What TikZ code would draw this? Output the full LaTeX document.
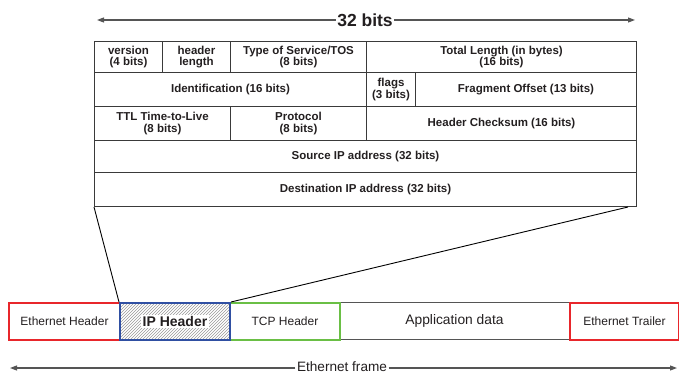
\documentclass[tikz,border=0pt]{standalone}
\usepackage{fontspec}
\setmainfont{Liberation Sans}
\usetikzlibrary{arrows.meta,patterns}
\definecolor{ink}{HTML}{231F20}
\definecolor{tline}{HTML}{3A3A3A}
\definecolor{ered}{HTML}{E8262B}
\definecolor{eblue}{HTML}{2F4FA2}
\definecolor{egreen}{HTML}{6ABF45}
\definecolor{agray}{HTML}{555555}
\begin{document}
\begin{tikzpicture}[x=1pt,y=-1pt,
  cell/.style={draw=tline, line width=1pt, anchor=north west, inner sep=0pt, align=center, text=ink,
    font=\fontsize{11.5}{11.5}\selectfont\bfseries},
  fbox/.style={line width=2pt, anchor=north west, inner sep=0pt, minimum height=37pt, text=ink,
    font=\fontsize{12}{12}\selectfont},
  dim/.style={draw=agray, line width=1.1pt, -{Triangle[length=7pt,width=5pt]}},
  zoomline/.style={draw=black, line width=0.9pt}
]
\useasboundingbox (0,0) rectangle (679,374);

% --- IP header table ---
\node[cell, minimum width=68pt, minimum height=31pt] (ver) at (94,41) {version\\(4 bits)};
\node[cell, minimum width=68pt, minimum height=31pt] (hl) at (162,41) {header\\length};
\node[cell, minimum width=136pt, minimum height=31pt] (tos) at (230,41) {Type of Service/TOS\\(8 bits)};
\node[cell, minimum width=270pt, minimum height=31pt] (tl) at (366,41) {Total Length (in bytes)\\(16 bits)};

\node[cell, minimum width=272pt, minimum height=34pt] (id) at (94,72) {Identification (16 bits)};
\node[cell, minimum width=49pt, minimum height=34pt] (fl) at (366,72) {flags\\(3 bits)};
\node[cell, minimum width=221pt, minimum height=34pt] (fo) at (415,72) {Fragment Offset (13 bits)};

\node[cell, minimum width=136pt, minimum height=34pt] (ttl) at (94,106) {TTL Time-to-Live\\(8 bits)};
\node[cell, minimum width=136pt, minimum height=34pt] (pr) at (230,106) {Protocol\\(8 bits)};
\node[cell, minimum width=270pt, minimum height=34pt] (ck) at (366,106) {Header Checksum (16 bits)};

\node[cell, minimum width=542pt, minimum height=32pt] (src) at (94,140) {Source IP address (32 bits)};
\node[cell, minimum width=542pt, minimum height=34pt] (dst) at (94,172) {Destination IP address (32 bits)};

% --- 32 bits arrow ---
\node[fill=white, inner xsep=1.5pt, inner ysep=0pt, text=ink, font=\fontsize{17.5}{18}\selectfont\bfseries] (bits) at (365,20) {32 bits};
\coordinate (bl) at (97,20);
\coordinate (br) at (635,20);
\draw[dim] (bits.west) -- (bl);
\draw[dim] (bits.east) -- (br);

% --- Ethernet frame bar ---
\node[fbox, draw=agray, line width=1pt, minimum width=230pt, font=\fontsize{13.8}{14}\selectfont] (app) at (339,302) {Application data};
\node[fbox, draw=ered, minimum width=111pt] (eh) at (8,302) {Ethernet Header};
\node[fbox, draw=ered, minimum width=109pt] (et) at (569,302) {Ethernet Trailer};
\node[fbox, draw=egreen, minimum width=110pt] (tcp) at (229,302) {TCP Header};
\node[fbox, draw=eblue, minimum width=110pt, pattern=north east lines, pattern color=gray!80] (ip) at (119,302) {};
\node[fill=white, inner sep=1.5pt, text=ink, font=\fontsize{14}{14}\selectfont\bfseries] (iplab) at (ip.center) {IP Header};

% --- zoom lines ---
\coordinate (dr) at (628,207);
\draw[zoomline] (dst.south west) -- (ip.north west);
\draw[zoomline] (dr) -- (ip.north east);

% --- Ethernet frame arrow ---
\node[fill=white, inner xsep=1.5pt, inner ysep=0pt, text=ink, font=\fontsize{13.6}{14}\selectfont] (ef) at (342,366.5) {Ethernet frame};
\coordinate (fl1) at (10,368);
\coordinate (fr1) at (677,368);
\draw[dim] (ef.west |- fl1) -- (fl1);
\draw[dim] (ef.east |- fr1) -- (fr1);
\end{tikzpicture}
\end{document}
